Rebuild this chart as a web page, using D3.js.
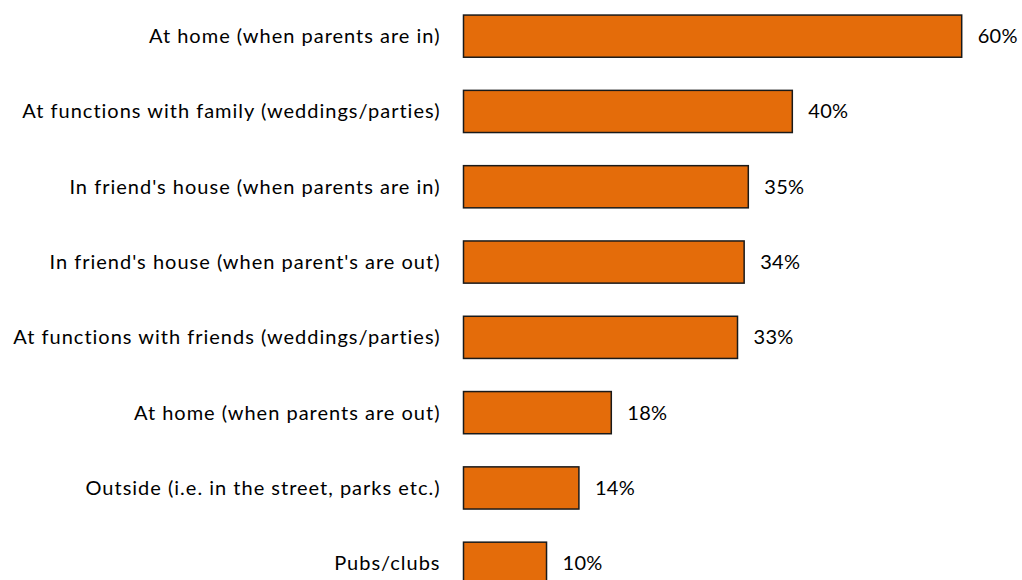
<!DOCTYPE html>
<html>
<head>
<meta charset="utf-8">
<script src="https://cdn.jsdelivr.net/npm/d3@7"></script>
<style>
  body { margin: 0; background: #fff; overflow: hidden; }
  text { font-family: Lato, sans-serif; fill: #000; }
</style>
</head>
<body>
<div id="graphicContainer"></div>
<script>

var categories = [
  "At home (when parents are in)",
  "At functions with family (weddings/parties)",
  "In friend's house (when parents are in)",
  "In friend's house (when parent's are out)",
  "At functions with friends (weddings/parties)",
  "At home (when parents are out)",
  "Outside (i.e. in the street, parks etc.)",
  "Pubs/clubs"
]

var values = [60, 39.6, 34.3, 33.8, 33.0, 17.8, 13.9, 10]

var valueLabels = ["60%", "40%", "35%", "34%", "33%", "18%", "14%", "10%"]

var width = 1022
var height = 580

var margin = { top: 0, left: 463.5 }

var svg = d3.select("#graphicContainer").append("svg")
  .attr("width", width)
  .attr("height", height)

var y = d3.scaleBand()
  .domain(categories)
  .range([-1.5, -1.5 + 75.3 * categories.length])
  .paddingInner(0.44)
  .paddingOuter(0.22)

var x = d3.scaleLinear()
  .domain([0, 60])
  .range([margin.left, 961.7])

var rows = svg.append("g")
  .selectAll("g")
  .data(categories)
  .enter()
  .append("g")
  .attr("transform", d => `translate(0,${y(d)})`)

rows.append("rect")
  .attr("x", x(0))
  .attr("y", 0)
  .attr("width", (d, i) => x(values[i]) - x(0))
  .attr("height", y.bandwidth())
  .attr("fill", "#E46C0A")
  .attr("stroke", "#1a1a1a")
  .attr("stroke-width", 1.5)

rows.append("text")
  .attr("x", x(0) - 23)
  .attr("y", y.bandwidth() / 2)
  .attr("dy", "0.35em")
  .attr("text-anchor", "end")
  .attr("font-size", "20px")
  .attr("letter-spacing", "1px")
  .text(d => d)

rows.append("text")
  .attr("x", (d, i) => x(values[i]) + 16)
  .attr("y", y.bandwidth() / 2)
  .attr("dy", "0.35em")
  .attr("font-size", "20px")
  .attr("letter-spacing", "0.3px")
  .text((d, i) => valueLabels[i])

</script>
</body>
</html>
